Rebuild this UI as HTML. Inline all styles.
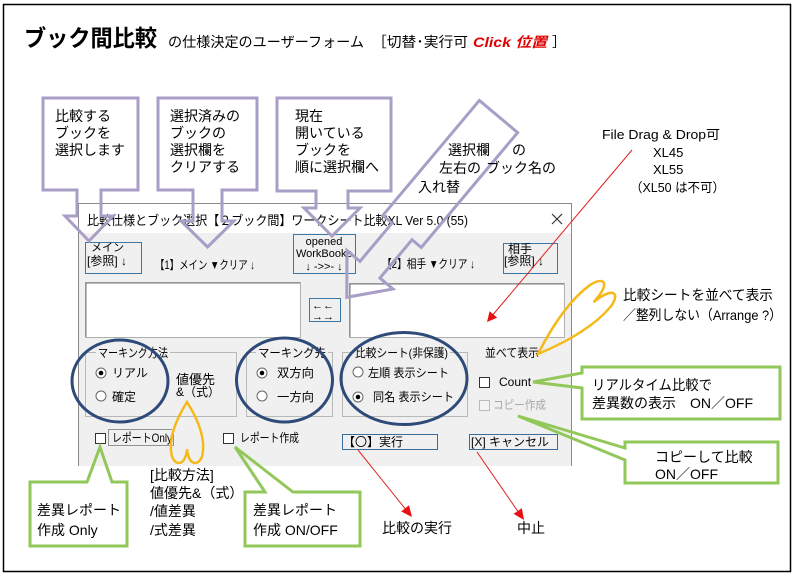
<!DOCTYPE html>
<html><head><meta charset="utf-8"><style>
html,body{margin:0;padding:0;background:#fff;}
svg{display:block;}
text{font-family:"Liberation Sans","Noto Sans CJK JP",sans-serif;fill:#000;}
</style></head><body>
<svg width="799" height="577" viewBox="0 0 799 577" xmlns="http://www.w3.org/2000/svg">
<rect width="799" height="577" fill="#fff"/>
<rect x="3.5" y="4.5" width="787" height="567" fill="none" stroke="#000" stroke-width="1.5"/>

<!-- Title -->
<text x="24" y="46" font-size="23" font-weight="bold" textLength="133" lengthAdjust="spacingAndGlyphs">ブック間比較</text>
<text x="168" y="47" font-size="14" textLength="196" lengthAdjust="spacingAndGlyphs">の仕様決定のユーザーフォーム</text>
<text x="372" y="47" font-size="14" textLength="96" lengthAdjust="spacingAndGlyphs">［切替･実行可</text>
<text x="473" y="47" font-size="14" font-weight="bold" font-style="italic" style="fill:#e00000" textLength="74" lengthAdjust="spacingAndGlyphs">Click 位置</text>
<text x="552" y="47" font-size="14">］</text>

<!-- Dialog -->
<rect x="78" y="203" width="494" height="263" fill="#f0f0f0"/>
<rect x="78" y="203" width="494" height="30" fill="#fff"/>
<path d="M78.5,466 V203.5 H571.5 V466" fill="none" stroke="#8a8a8a" stroke-width="1"/>
<text x="87" y="225" font-size="13" textLength="381" lengthAdjust="spacingAndGlyphs">比較仕様とブック選択【２ブック間】ワークシート比較XL Ver 5.0 (55)</text>
<path d="M552,214 L562,224 M562,214 L552,224" stroke="#333" stroke-width="1.2"/>

<!-- top row buttons -->
<rect x="85.5" y="242.5" width="56" height="31" fill="#f0f0f0" stroke="#3b78a8"/>
<text x="91" y="251" font-size="11">メイン</text>
<text x="87" y="265" font-size="12">[参照] ↓</text>
<text x="155" y="269" font-size="12" textLength="100" lengthAdjust="spacingAndGlyphs">【1】メイン ▼クリア ↓</text>
<rect x="293.5" y="234.5" width="62" height="39" fill="#f0f0f0" stroke="#3b78a8"/>
<text x="324" y="245" font-size="11" text-anchor="middle">opened</text>
<text x="324" y="257" font-size="11" text-anchor="middle">WorkBooks</text>
<text x="324" y="270" font-size="11" text-anchor="middle">↓ -&gt;&gt;-  ↓</text>
<text x="382" y="268" font-size="12" textLength="93" lengthAdjust="spacingAndGlyphs">【2】相手 ▼クリア ↓</text>
<rect x="503.5" y="243.5" width="54" height="30" fill="#f0f0f0" stroke="#3b78a8"/>
<text x="508" y="253" font-size="12">相手</text>
<text x="504" y="265" font-size="12">[参照] ↓</text>

<!-- list boxes -->
<rect x="85.5" y="282.5" width="215" height="55" fill="#fff" stroke="#b0b0b0"/>
<path d="M86,337 V283 H300" stroke="#777" fill="none"/>
<rect x="349.5" y="283.5" width="215" height="54" fill="#fff" stroke="#b0b0b0"/>
<path d="M350,337 V284 H564" stroke="#777" fill="none"/>
<rect x="309.5" y="298.5" width="31" height="23" fill="#f0f0f0" stroke="#3b78a8"/>
<text x="312" y="309" font-size="11">←←</text>
<text x="312" y="320" font-size="11">→→</text>

<!-- frames -->
<rect x="85.5" y="352.5" width="151" height="64" fill="none" stroke="#b8b8b8"/>
<rect x="246.5" y="352.5" width="86" height="64" fill="none" stroke="#b8b8b8"/>
<rect x="342.5" y="352.5" width="125" height="64" fill="none" stroke="#b8b8b8"/>
<rect x="96" y="346" width="74" height="12" fill="#f0f0f0"/>
<rect x="256" y="346" width="72" height="12" fill="#f0f0f0"/>
<rect x="353" y="346" width="97" height="12" fill="#f0f0f0"/>
<text x="98" y="357" font-size="12" textLength="70" lengthAdjust="spacingAndGlyphs">マーキング方法</text>
<text x="258" y="357" font-size="12" textLength="68" lengthAdjust="spacingAndGlyphs">マーキング先</text>
<text x="355" y="357" font-size="12" textLength="93" lengthAdjust="spacingAndGlyphs">比較シート(非保護)</text>

<!-- radios -->
<g fill="#fff" stroke="#666" stroke-width="1">
<circle cx="101" cy="373" r="5"/>
<circle cx="101" cy="396" r="5"/>
<circle cx="262" cy="373" r="5"/>
<circle cx="262" cy="396" r="5"/>
<circle cx="358" cy="372" r="5"/>
<circle cx="358" cy="397" r="5"/>
</g>
<g fill="#000">
<circle cx="101" cy="373" r="2.3"/>
<circle cx="262" cy="373" r="2.3"/>
<circle cx="358" cy="397" r="2.3"/>
</g>
<text x="112" y="377" font-size="12">リアル</text>
<text x="112" y="401" font-size="12">確定</text>
<text x="176" y="384" font-size="13">値優先</text>
<text x="176" y="396" font-size="12">&amp;（式）</text>
<text x="277" y="377" font-size="12" textLength="37" lengthAdjust="spacingAndGlyphs">双方向</text>
<text x="277" y="401" font-size="12" textLength="37" lengthAdjust="spacingAndGlyphs">一方向</text>
<text x="368" y="377" font-size="12" textLength="81" lengthAdjust="spacingAndGlyphs">左順 表示シート</text>
<text x="373" y="401" font-size="12" textLength="81" lengthAdjust="spacingAndGlyphs">同名 表示シート</text>
<text x="485" y="357" font-size="12" textLength="54" lengthAdjust="spacingAndGlyphs">並べて表示</text>

<!-- checkboxes -->
<rect x="479.5" y="377.5" width="10" height="10" fill="#fff" stroke="#333"/>
<text x="499" y="386" font-size="12">Count</text>
<rect x="479.5" y="400.5" width="10" height="10" fill="#f4f4f4" stroke="#bbb"/>
<text x="493" y="409" font-size="12" style="fill:#a8a8a8" textLength="53" lengthAdjust="spacingAndGlyphs">コピー作成</text>
<rect x="95.5" y="433.5" width="10" height="10" fill="#fff" stroke="#333"/>
<rect x="108.5" y="429.5" width="65" height="16" fill="none" stroke="#333" stroke-dasharray="1,1"/>
<text x="112" y="442" font-size="12" textLength="60" lengthAdjust="spacingAndGlyphs">レポートOnly</text>
<rect x="223.5" y="433.5" width="10" height="10" fill="#fff" stroke="#333"/>
<text x="240" y="442" font-size="12" textLength="59" lengthAdjust="spacingAndGlyphs">レポート作成</text>

<!-- bottom buttons -->
<rect x="342.5" y="434.5" width="95" height="15" fill="#f0f0f0" stroke="#3b6d9c"/>
<text x="343" y="446" font-size="12">【〇】実行</text>
<rect x="469.5" y="434.5" width="88" height="15" fill="#f0f0f0" stroke="#3b6d9c"/>
<text x="471" y="446" font-size="12">[X] キャンセル</text>

<!-- ellipses -->
<g fill="none" stroke="#2e4a78" stroke-width="3">
<ellipse cx="120" cy="381" rx="48" ry="41"/>
<ellipse cx="284.5" cy="380" rx="48" ry="42"/>
<ellipse cx="404" cy="378.5" rx="63" ry="46"/>
</g>

<!-- lavender callouts -->
<g fill="none" stroke="#a89ec6" stroke-width="3" stroke-linejoin="miter">
<polygon points="43,98 138,98 138,190 101,190 101,216 113,216 89,241 65,216 77,216 77,190 43,190"/>
<polygon points="158,98 257,98 257,190 222,190 222,221 234,221 207.5,247 181,221 193,221 193,190 158,190"/>
<polygon points="277,98 391,98 391,191 348,191 348,208 360,208 332,236 304,208 316,208 316,191 277,191"/>
<g transform="translate(498.5,116.5) rotate(40)">
<polygon points="-25,0 25,0 25,150 13,150 13,200 30,200 0,236 -30,200 -13,200 -13,150 -25,150"/>
</g>
</g>
<g font-size="14">
<text x="55" y="121">比較する</text>
<text x="55" y="138">ブックを</text>
<text x="55" y="155">選択します</text>
<text x="170" y="121">選択済みの</text>
<text x="170" y="138">ブックの</text>
<text x="170" y="155">選択欄を</text>
<text x="170" y="172">クリアする</text>
<text x="295" y="121">現在</text>
<text x="295" y="138">開いている</text>
<text x="295" y="155">ブックを</text>
<text x="295" y="172">順に選択欄へ</text>
<text x="448" y="155">選択欄</text>
<text x="512" y="155">の</text>
<text x="439" y="173">左右の</text>
<text x="486" y="173">ブック名の</text>
<text x="418" y="192">入れ替</text>
</g>

<!-- File drag text -->
<text x="602" y="139" font-size="13" textLength="118" lengthAdjust="spacingAndGlyphs">File Drag &amp; Drop可</text>
<text x="653" y="157" font-size="13">XL45</text>
<text x="653" y="174" font-size="13">XL55</text>
<text x="630" y="192" font-size="13" textLength="95" lengthAdjust="spacingAndGlyphs">（XL50 は不可）</text>

<!-- red arrows -->
<g stroke="#e02020" stroke-width="1">
<line x1="632" y1="150" x2="491" y2="317"/>
<line x1="358" y1="450" x2="407" y2="511"/>
<line x1="477" y1="452" x2="519" y2="513"/>
</g>
<g fill="#e81010">
<polygon points="487,322 497.2,317.6 489.6,311.2"/>
<polygon points="412,517 409,505.3 401.2,511.5"/>
<polygon points="524,520 521.85,508.16 513.65,513.84"/>
</g>
<text x="382" y="533" font-size="14">比較の実行</text>
<text x="517" y="533" font-size="14">中止</text>

<!-- right annotation -->
<text x="623" y="300" font-size="14" textLength="150" lengthAdjust="spacingAndGlyphs">比較シートを並べて表示</text>
<text x="623" y="320" font-size="14" textLength="159" lengthAdjust="spacingAndGlyphs">／整列しない（Arrange ?）</text>

<!-- yellow shapes -->
<g fill="none" stroke="#f5b919" stroke-width="2.5">
<path transform="translate(187,402)" d="M0,0 C-11.9,18.9 -18.7,37.8 -15.3,53.6 C-11.9,64.3 -1.7,64.3 0,47.3 C1.7,64.3 11.9,64.3 15.3,53.6 C18.7,37.8 11.9,18.9 0,0Z"/>
<path transform="translate(538,354) rotate(-133)" d="M0,0 C-11,30 -18,60 -15,85 C-12,102 -2,102 0,76 C2,102 12,102 15,85 C18,60 11,30 0,0Z"/>
</g>

<!-- green callouts -->
<g fill="none" stroke="#92c85a" stroke-width="3" stroke-linejoin="miter">
<polygon points="582,367 780,367 780,419 582,419 582,388 533,382 582,373"/>
<polygon points="625,442 778,442 778,483 625,483 625,460 518,416 625,448"/>
<polygon points="30,482 87,482 100,447 112,482 127,482 127,546 30,546"/>
<polygon points="245,492 265,492 235,447 293,492 360,492 360,546 245,546"/>
</g>
<g font-size="14">
<text x="592" y="390" textLength="120" lengthAdjust="spacingAndGlyphs">リアルタイム比較で</text>
<text x="592" y="408" textLength="161" lengthAdjust="spacingAndGlyphs">差異数の表示　ON／OFF</text>
<text x="655" y="462">コピーして比較</text>
<text x="655" y="479">ON／OFF</text>
<text x="37" y="515">差異レポート</text>
<text x="37" y="535">作成 Only</text>
<text x="253" y="515">差異レポート</text>
<text x="253" y="535">作成 ON/OFF</text>
</g>

<!-- bottom method text -->
<g font-size="14">
<text x="150" y="480">[比較方法]</text>
<text x="150" y="498">値優先&amp;（式）</text>
<text x="150" y="516">/値差異</text>
<text x="150" y="535">/式差異</text>
</g>
</svg>
</body></html>
